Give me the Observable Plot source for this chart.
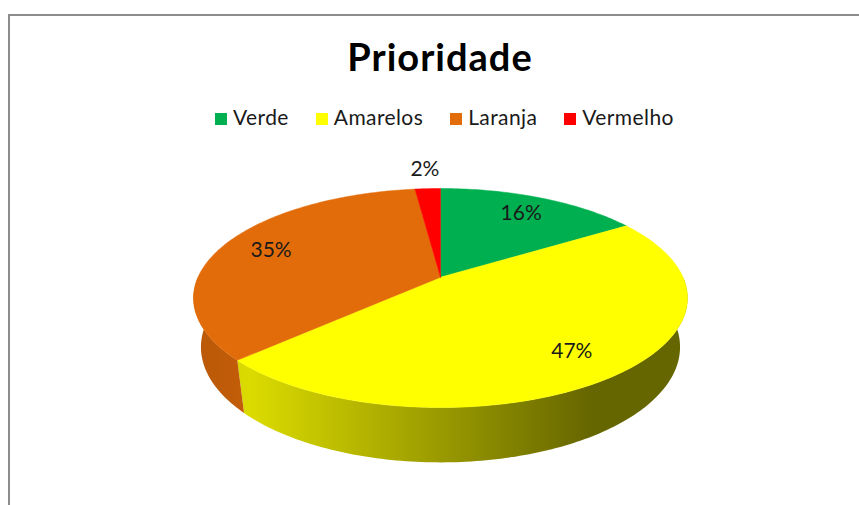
<!DOCTYPE html>
<html>
<head>
<meta charset="utf-8">
<script src="https://cdn.jsdelivr.net/npm/d3@7"></script>
<script src="https://cdn.jsdelivr.net/npm/@observablehq/plot@0.6"></script>
<style>
  html, body { margin: 0; padding: 0; background: #fff; overflow: hidden; }
  #page { position: relative; width: 859px; height: 505px; overflow: hidden; font-family: Lato, "Open Sans", sans-serif; }
  #frame { position: absolute; left: 8px; top: 14px; width: 900px; height: 600px;
           border-top: 2px solid #8c8c8c; border-left: 2px solid #8c8c8c; box-sizing: border-box; }
  #title { position: absolute; left: 0; width: 880px; top: 37px; text-align: center;
           font: bold 38px Lato, sans-serif; line-height: 38px; letter-spacing: 1px; color: #000; }
  #legend { position: absolute; left: 215px; top: 106px; }
  #legend [class*="-swatches"] { font-family: Lato, sans-serif !important; font-size: 21px !important; letter-spacing: 0.4px;
           margin: 0 !important; min-height: 0 !important; color: #1a1a1a; display: flex; flex-wrap: nowrap; }
  #legend [class$="-swatch"] { margin-right: 27px !important; line-height: 21px; display: inline-flex; align-items: center; white-space: nowrap; }
  #legend [class$="-swatch"] > svg { margin-right: 6px !important; position: relative; top: 2px; }
  #chart { position: absolute; left: 0; top: 140px; }
</style>
</head>
<body>
<div id="page">
  <div id="frame"></div>
  <div id="title"></div>
  <div id="legend"></div>
  <div id="chart"></div>
</div>
<script>
// ---- data ----
const title = "Prioridade";
const names = ["Verde", "Amarelos", "Laranja", "Vermelho"];
const shares = [16, 47, 35, 2];
const labels = ["16%", "47%", "35%", "2%"];
const colors = ["#00B050", "#FFFF00", "#E36C0A", "#FF0000"];

// ---- 3D projection of the pie disc (perspective tilt) ----
const U = 242.5, V = 105.55, K = 0.19, H = 50, E = 0.03;
const rad = d => d * Math.PI / 180;
function topPt(r, deg) {
  const t = rad(deg), w = 1 - K * r * Math.sin(t);
  return [U * r * Math.cos(t) / w, V * r * Math.sin(t) / w];
}
function botPt(deg) {
  const t = rad(deg), w = 1 - K * Math.sin(t) + E;
  return [U * Math.cos(t) / w, (V * Math.sin(t) + H) / w];
}
function arcDegs(a, b) {
  const n = Math.max(2, Math.ceil(Math.abs(b - a)));
  return d3.range(n + 1).map(i => a + (b - a) * i / n);
}

const arcs = d3.pie().sort(null).value((d, i) => shares[i])(names);
const slices = arcs.map((a, i) => ({
  name: names[i], i,
  a0: a.startAngle * 180 / Math.PI - 90,
  a1: a.endAngle * 180 / Math.PI - 90
}));

// top face polygons
const topRows = [];
slices.forEach(s => {
  topRows.push({slice: s.name, x: 0, y: 0});
  arcDegs(s.a0, s.a1).forEach(d => { const [x, y] = topPt(1, d); topRows.push({slice: s.name, x, y}); });
  topRows.push({slice: s.name, x: 0, y: 0});
});

// visible side wall (front half)
const sideSets = [];
slices.forEach(s => {
  const lo = Math.max(s.a0, 0), hi = Math.min(s.a1, 180);
  if (hi <= lo) return;
  const rows = [];
  arcDegs(lo, hi).forEach(d => { const [x, y] = topPt(1, d); rows.push({x, y}); });
  arcDegs(hi, lo).forEach(d => { const [x, y] = botPt(d); rows.push({x, y}); });
  sideSets.push({s, rows});
});

// labels
const labelRows = slices.map(s => {
  const mid = (s.a0 + s.a1) / 2;
  const outside = shares[s.i] < 5;
  const [x, y] = topPt(outside ? 1.27 : 0.78, mid);
  return {x, y, text: labels[s.i]};
});

const W = 859, Hh = 365;
const plot = Plot.plot({
  width: W, height: Hh, margin: 0,
  x: {domain: [-440, 419], range: [0, W], axis: null},
  y: {domain: [-136.7, 228.3], range: [0, Hh], axis: null},
  color: {domain: names, range: colors},
  style: {background: "transparent", overflow: "visible"},
  marks: [
    ...sideSets.map(({s, rows}) => Plot.line(rows, {x: "x", y: "y", fill: `url(#side-${s.i})`, stroke: "none", curve: "linear"})),
    Plot.line(topRows, {x: "x", y: "y", z: "slice", fill: "slice", stroke: "slice", strokeWidth: 0.5, curve: "linear"}),
    Plot.text(labelRows, {x: "x", y: "y", text: "text", fontSize: 21, fontFamily: "Lato, sans-serif", fill: "#1a1a1a", textAnchor: "middle", lineAnchor: "middle"})
  ]
});

// side gradients (cylinder shading, lighter on the left, dark on the right)
const sx = plot.scale("x");
const ns = "http://www.w3.org/2000/svg";
const defs = document.createElementNS(ns, "defs");
const stops = [[-245, 0.82], [-190, 0.86], [150, 0.40]];
sideSets.forEach(({s}) => {
  const g = document.createElementNS(ns, "linearGradient");
  g.setAttribute("id", `side-${s.i}`);
  g.setAttribute("gradientUnits", "userSpaceOnUse");
  g.setAttribute("x1", sx.apply(stops[0][0])); g.setAttribute("x2", sx.apply(stops[stops.length - 1][0]));
  g.setAttribute("y1", 0); g.setAttribute("y2", 0);
  const span = stops[stops.length - 1][0] - stops[0][0];
  const base = d3.rgb(colors[s.i]);
  stops.forEach(([v, f]) => {
    const st = document.createElementNS(ns, "stop");
    st.setAttribute("offset", (v - stops[0][0]) / span);
    st.setAttribute("stop-color", d3.rgb(base.r * f, base.g * f, base.b * f).formatHex());
    g.appendChild(st);
  });
  defs.appendChild(g);
});
plot.insertBefore(defs, plot.firstChild);

document.getElementById("chart").appendChild(plot);
document.getElementById("title").textContent = title;
document.getElementById("legend").appendChild(plot.legend("color", {legend: "swatches", swatchSize: 12}));
</script>
</body>
</html>
